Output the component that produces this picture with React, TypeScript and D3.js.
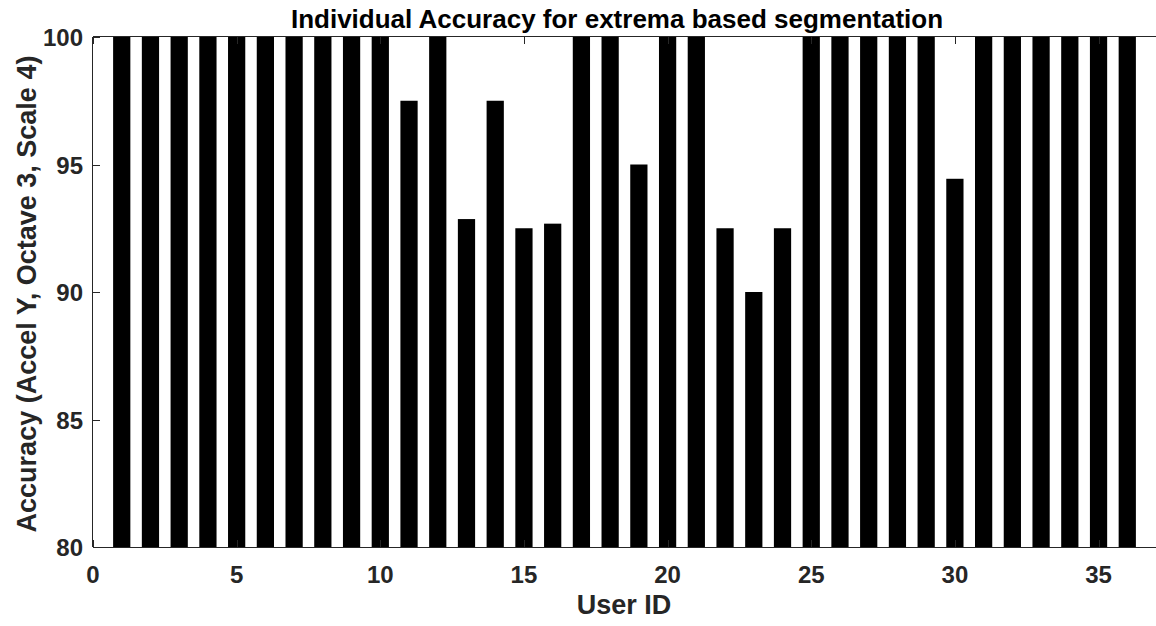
import React from "react";
import * as d3 from "d3";

const userIds = d3.range(1, 37);
const accuracy = [
  100, 100, 100, 100, 100, 100, 100, 100, 100, 100,
  97.5, 100, 92.86, 97.5, 92.5, 92.68, 100, 100, 95, 100,
  100, 92.5, 90, 92.5, 100, 100, 100, 100, 100, 94.44,
  100, 100, 100, 100, 100, 100,
];
const xTicks = [0, 5, 10, 15, 20, 25, 30, 35];
const yTicks = [80, 85, 90, 95, 100];

export default function App() {
  const width = 1156;
  const height = 626;
  const left = 93;
  const right = 1156;
  const top = 37;
  const bottom = 547;
  const axisColor = "#262626";
  const font = "'Liberation Sans', Arial, sans-serif";

  const svgRef = React.useRef<SVGSVGElement>(null);

  React.useEffect(() => {
    const svg = d3.select(svgRef.current);
    svg.selectAll("*").remove();

    const x = d3.scaleLinear().domain([0, 37]).range([left, right]);
    const y = d3.scaleLinear().domain([80, 100]).range([bottom, top]);
    const barW = (x(1) - x(0)) * 0.6;

    svg
      .append("g")
      .selectAll("rect")
      .data(userIds)
      .join("rect")
      .attr("x", (d) => x(d) - barW / 2)
      .attr("y", (d, i) => y(accuracy[i]))
      .attr("width", barW)
      .attr("height", (d, i) => y(80) - y(accuracy[i]))
      .attr("fill", "#000");

    const tickLen = 7;
    const g = svg.append("g").attr("stroke", axisColor).attr("stroke-width", 1);

    // box
    g.append("line").attr("x1", left).attr("x2", right).attr("y1", bottom + 0.5).attr("y2", bottom + 0.5);
    g.append("line").attr("x1", left).attr("x2", right).attr("y1", top - 0.5).attr("y2", top - 0.5);
    g.append("line").attr("x1", left - 0.5).attr("x2", left - 0.5).attr("y1", top).attr("y2", bottom);

    // x ticks, inward on bottom and top
    xTicks.forEach((t) => {
      const xp = Math.round(x(t)) + 0.5;
      g.append("line").attr("x1", xp).attr("x2", xp).attr("y1", bottom).attr("y2", bottom - tickLen);
      g.append("line").attr("x1", xp).attr("x2", xp).attr("y1", top).attr("y2", top + tickLen);
    });
    yTicks.forEach((t) => {
      const yp = Math.round(y(t)) + 0.5;
      g.append("line").attr("x1", left).attr("x2", left + tickLen).attr("y1", yp).attr("y2", yp);
    });

    const labels = svg
      .append("g")
      .attr("font-family", font)
      .attr("font-weight", "bold")
      .attr("fill", axisColor);

    labels
      .selectAll(".xt")
      .data(xTicks)
      .join("text")
      .attr("x", (d) => x(d))
      .attr("y", bottom + 36)
      .attr("text-anchor", "middle")
      .attr("font-size", 24)
      .text((d) => d);

    labels
      .selectAll(".yt")
      .data(yTicks)
      .join("text")
      .attr("x", left - 10)
      .attr("y", (d) => y(d) + 9)
      .attr("text-anchor", "end")
      .attr("font-size", 24)
      .text((d) => d);

    labels
      .append("text")
      .attr("x", 624)
      .attr("y", 614)
      .attr("text-anchor", "middle")
      .attr("font-size", 27)
      .text("User ID");

    labels
      .append("text")
      .attr("transform", `translate(36, ${(top + bottom) / 2 + 2}) rotate(-90)`)
      .attr("text-anchor", "middle")
      .attr("font-size", 27)
      .text("Accuracy (Accel Y, Octave 3, Scale 4)");

    svg
      .append("text")
      .attr("x", 617)
      .attr("y", 28)
      .attr("text-anchor", "middle")
      .attr("font-family", font)
      .attr("font-weight", "bold")
      .attr("font-size", 26)
      .attr("fill", "#000")
      .text("Individual Accuracy for extrema based segmentation");
  }, []);

  return (
    <svg
      ref={svgRef}
      width={width}
      height={height}
      style={{ position: "absolute", left: 0, top: 0, background: "#fff" }}
    />
  );
}
